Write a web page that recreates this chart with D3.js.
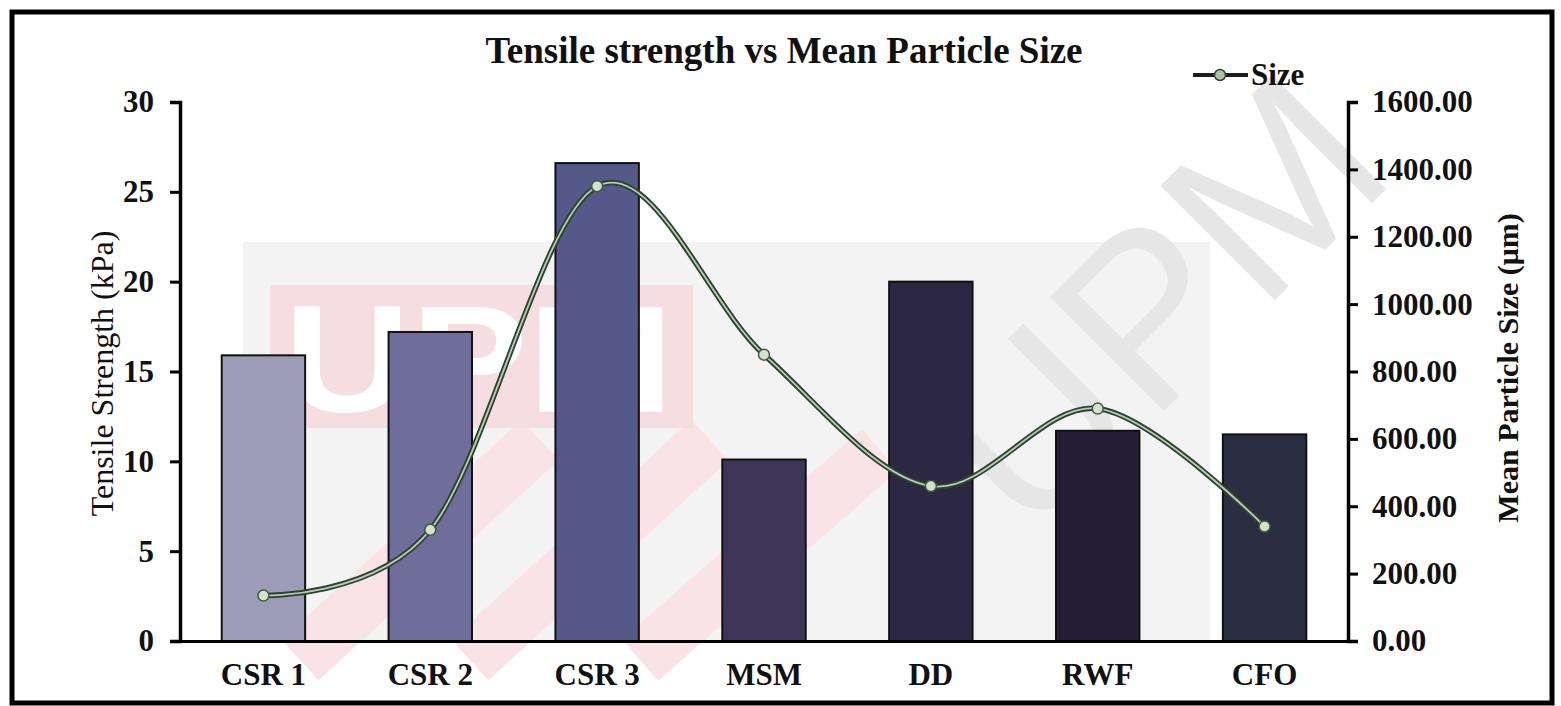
<!DOCTYPE html>
<html>
<head>
<meta charset="utf-8">
<script src="https://cdn.jsdelivr.net/npm/d3@7"></script>
<style>
  html, body { margin: 0; padding: 0; background: #ffffff; }
  svg { display: block; }
  text { font-family: "Liberation Serif", "Times New Roman", serif; }
</style>
</head>
<body>
<svg id="chart" width="1561" height="706"></svg>
<script>
// Samples along the x axis
const categories = ["CSR 1", "CSR 2", "CSR 3", "MSM", "DD", "RWF", "CFO"];
// Tensile strength (kPa), bars on the left axis
const tensileStrength = [15.9, 17.2, 26.6, 10.1, 20.0, 11.7, 11.5];
// Mean particle size (µm), smoothed line on the right axis
const meanSize = [135, 330, 1350, 850, 460, 690, 340];
// Bar fills, from light lavender to deep navy
const barColors = ["#9d9bb6", "#6f6d99", "#55598a", "#3e3659", "#2c2742", "#241e35", "#2b2d41"];
const leftTicks = [0, 5, 10, 15, 20, 25, 30];
const rightTicks = [0, 200, 400, 600, 800, 1000, 1200, 1400, 1600];

const svg = d3.select("#chart");
const plot = { left: 180, right: 1348, top: 102, bottom: 641 };

// faint background watermark
const wm = svg.append("g").attr("class", "watermark");
wm.append("rect").attr("x", 243).attr("y", 242).attr("width", 967).attr("height", 399)
  .style("fill", "#f3f3f3");
[[300, 660, 540, 440], [470, 660, 710, 440], [640, 660, 880, 450]].forEach(s => {
  wm.append("line").attr("x1", s[0]).attr("y1", s[1]).attr("x2", s[2]).attr("y2", s[3])
    .style("stroke", "#f9e3e6").attr("stroke-width", 55);
});
wm.append("rect").attr("x", 270).attr("y", 285).attr("width", 423).attr("height", 143)
  .style("fill", "#f6dde1");
wm.append("text").attr("x", 284).attr("y", 412).attr("textLength", 390)
  .attr("lengthAdjust", "spacingAndGlyphs")
  .style("font-family", "'Liberation Sans', Arial, sans-serif").style("font-weight", "bold")
  .style("font-size", "152px").style("fill", "#ffffff").text("UPM");
wm.append("text")
  .attr("transform", "translate(1215,360) rotate(-45)")
  .attr("text-anchor", "middle")
  .style("font-family", "'Liberation Sans', Arial, sans-serif")
  .style("font-size", "235px")
  .style("fill", "#e6e6e6")
  .text("UPM");

// scales
const x = d3.scaleBand().domain(categories).range([plot.left, plot.right]).paddingInner(0.5).paddingOuter(0.25);
const yL = d3.scaleLinear().domain([0, 30]).range([plot.bottom, plot.top]);
const yR = d3.scaleLinear().domain([0, 1600]).range([plot.bottom, plot.top]);

// bars
svg.append("g").selectAll("rect").data(categories).join("rect")
  .attr("x", d => x(d))
  .attr("y", (d, i) => yL(tensileStrength[i]))
  .attr("width", x.bandwidth())
  .attr("height", (d, i) => plot.bottom - yL(tensileStrength[i]))
  .style("fill", (d, i) => barColors[i])
  .attr("stroke", "#111")
  .attr("stroke-width", 2);

// axes
const axisStyle = g => {
  g.select(".domain").attr("stroke", "#000").attr("stroke-width", 3.5);
  g.selectAll(".tick line").attr("stroke", "#000").attr("stroke-width", 3);
  g.selectAll("text").style("font-family", "'Liberation Serif', 'Times New Roman', serif")
    .style("font-weight", "bold").style("font-size", "31px").style("fill", "#111");
};

svg.append("g").attr("transform", `translate(${plot.left},0)`)
  .call(d3.axisLeft(yL).tickValues(leftTicks).tickSize(10).tickSizeOuter(10).tickPadding(16))
  .call(axisStyle);

svg.append("g").attr("transform", `translate(${plot.right},0)`)
  .call(d3.axisRight(yR).tickValues(rightTicks).tickFormat(d3.format(".2f")).tickSize(10).tickSizeOuter(10).tickPadding(14))
  .call(axisStyle);

svg.append("g").attr("transform", `translate(0,${plot.bottom})`)
  .call(d3.axisBottom(x).tickSize(0).tickSizeOuter(0).tickPadding(22))
  .call(axisStyle)
  .call(g => g.select(".domain").attr("stroke-width", 3));

// smoothed line for mean particle size
const pts = categories.map((c, i) => [x(c) + x.bandwidth() / 2, yR(meanSize[i])]);
const line = d3.line().curve(d3.curveCardinal.tension(0));
svg.append("path").attr("d", line(pts)).attr("fill", "none")
  .attr("stroke", "#2c4331").attr("stroke-width", 5.5).attr("stroke-linecap", "round");
svg.append("path").attr("d", line(pts)).attr("fill", "none")
  .attr("stroke", "#b9cdb4").attr("stroke-width", 1.8).attr("stroke-linecap", "round");
svg.append("g").selectAll("circle").data(pts).join("circle")
  .attr("cx", d => d[0]).attr("cy", d => d[1]).attr("r", 5.5)
  .style("fill", "#d4e2cc").attr("stroke", "#3d5a3e").attr("stroke-width", 1.5);

// axis titles
svg.append("text")
  .attr("transform", `translate(113,${(plot.top + plot.bottom) / 2 + 2}) rotate(-90)`)
  .attr("text-anchor", "middle")
  .style("font-size", "32px").style("fill", "#111")
  .text("Tensile Strength (kPa)");

svg.append("text")
  .attr("transform", `translate(1518,368) rotate(-90)`)
  .attr("text-anchor", "middle")
  .style("font-size", "30px").style("font-weight", "bold").style("fill", "#111")
  .text("Mean Particle Size (μm)");

// title
svg.append("text").attr("x", 784).attr("y", 63).attr("text-anchor", "middle")
  .style("font-size", "37px").style("font-weight", "bold").style("fill", "#111")
  .text("Tensile strength vs Mean Particle Size");

// legend
const lg = svg.append("g");
lg.append("line").attr("x1", 1193).attr("x2", 1248).attr("y1", 75).attr("y2", 75)
  .attr("stroke", "#1d1d1d").attr("stroke-width", 4);
lg.append("circle").attr("cx", 1220).attr("cy", 75).attr("r", 5.5)
  .style("fill", "#a9c49e").attr("stroke", "#2f4634").attr("stroke-width", 1.5);
lg.append("text").attr("x", 1251).attr("y", 85)
  .style("font-size", "31px").style("font-weight", "bold").style("fill", "#111").text("Size");

// outer frame
svg.append("rect").attr("x", 12).attr("y", 12).attr("width", 1540).attr("height", 691)
  .attr("fill", "none").attr("stroke", "#000").attr("stroke-width", 5);
</script>
</body>
</html>
